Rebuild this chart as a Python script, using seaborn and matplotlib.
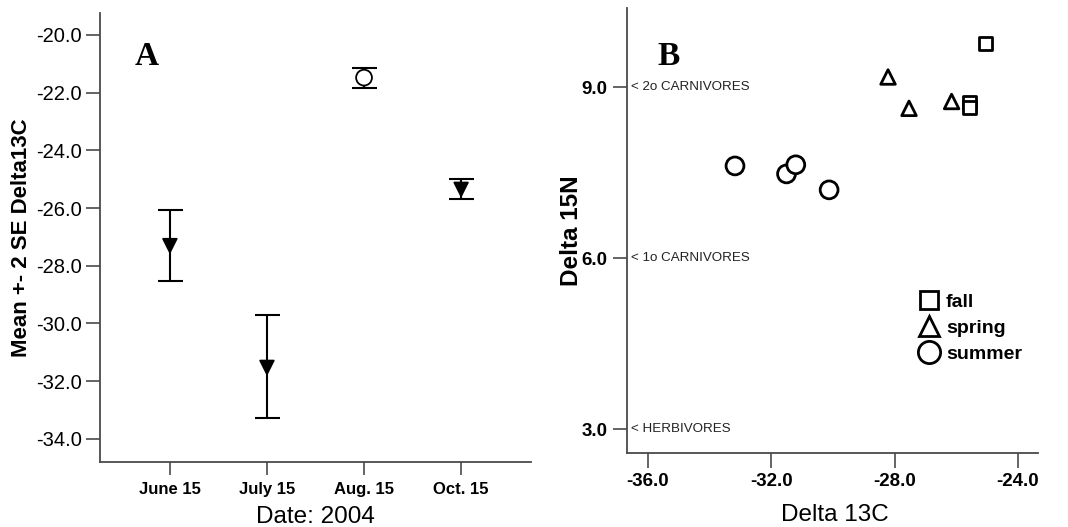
import numpy as np
import pandas as pd
import matplotlib
matplotlib.use("Agg")
import matplotlib.pyplot as plt
from matplotlib.lines import Line2D
import seaborn as sns

# Panel A: mean +/- 2 SE of delta 13C per sampling date
dates = ["June 15", "July 15", "Aug. 15", "Oct. 15"]
mean_d13c = [-27.30, -31.52, -21.48, -25.35]
lower_d13c = [-28.52, -33.27, -21.84, -25.70]
upper_d13c = [-26.07, -29.71, -21.16, -24.98]
a_yticks = [-20.0, -22.0, -24.0, -26.0, -28.0, -30.0, -32.0, -34.0]

# Panel B: individual isotope values by season
season = ["fall", "fall", "fall", "spring", "spring", "spring",
          "summer", "summer", "summer", "summer"]
d13c = [-25.05, -25.57, -25.57, -28.21, -27.53, -26.15,
        -33.17, -31.50, -31.20, -30.12]
d15n = [9.77, 8.73, 8.65, 9.18, 8.63, 8.75,
        7.62, 7.48, 7.64, 7.20]
b_xticks = [-36.0, -32.0, -28.0, -24.0]
b_yticks = [3.0, 6.0, 9.0]
trophic_labels = ["< HERBIVORES", "< 1o CARNIVORES", "< 2o CARNIVORES"]
season_order = ["fall", "spring", "summer"]

sns.set_style("ticks")
plt.rcParams["font.family"] = ["Liberation Sans", "DejaVu Sans"]
plt.rcParams["text.color"] = "black"
plt.rcParams["axes.labelcolor"] = "black"
plt.rcParams["xtick.labelcolor"] = "black"
plt.rcParams["ytick.labelcolor"] = "black"

SPINE = "#4a4a4a"
fig = plt.figure(figsize=(10.68, 5.27), dpi=100)
axA = fig.add_axes([100 / 1068, 1 - 462 / 527, 431 / 1068, 449 / 527])
axB = fig.add_axes([627 / 1068, 1 - 452.7 / 527, 411 / 1068, 444.7 / 527])

# ---------------- Panel A ----------------
dfA = pd.DataFrame({"date": dates, "mean": mean_d13c,
                    "lo": lower_d13c, "hi": upper_d13c})
dfA["pos"] = np.arange(len(dfA))
dfA["kind"] = np.where(dfA["date"] == "Aug. 15", "open", "filled")

axA.errorbar(dfA["pos"], dfA["mean"],
             yerr=[dfA["mean"] - dfA["lo"], dfA["hi"] - dfA["mean"]],
             fmt="none", ecolor="black", elinewidth=1.5,
             capsize=9, capthick=1.5, zorder=2)
sns.scatterplot(data=dfA, x="pos", y="mean", hue="kind", style="kind",
                size="kind", markers={"filled": "v", "open": "o"},
                palette={"filled": "black", "open": "white"},
                sizes={"filled": 95, "open": 130},
                edgecolor="black", linewidth=1.3, legend=False,
                ax=axA, zorder=3)

axA.set_xlim(-0.72, 3.72)
axA.set_ylim(-34.8, -19.24)
axA.set_xticks(dfA["pos"])
axA.set_xticklabels(dates, fontsize=12, fontweight="bold")
axA.set_yticks(a_yticks)
axA.set_yticklabels([f"{v:.1f}" for v in a_yticks], fontsize=14.5)
axA.tick_params(axis="y", length=10, width=1.2, color=SPINE, pad=3)
axA.tick_params(axis="x", length=9.5, width=1.2, color=SPINE, pad=5)
axA.set_ylabel("Mean +- 2 SE Delta13C", fontsize=16, fontweight="bold")
axA.yaxis.set_label_coords(-0.158, 0.5)
axA.set_xlabel("Date: 2004", fontsize=17.5)
axA.xaxis.set_label_coords(0.499, -0.097)

# ---------------- Panel B ----------------
dfB = pd.DataFrame({"season": season, "d13c": d13c, "d15n": d15n})
season_markers = {"fall": "s", "spring": "^", "summer": "o"}
sns.scatterplot(data=dfB, x="d13c", y="d15n", style="season",
                size="season", markers=season_markers,
                sizes={"fall": 85, "spring": 110, "summer": 165},
                style_order=season_order, hue="season",
                palette={s: "white" for s in season_order},
                edgecolor="black", linewidth=2.0, legend=False, ax=axB)

axB.set_xlim(-36.67, -23.35)
axB.set_ylim(2.59, 10.39)
axB.set_xticks(b_xticks)
axB.set_xticklabels([f"{v:.1f}" for v in b_xticks], fontsize=13.5,
                    fontweight="bold")
axB.set_yticks(b_yticks)
axB.set_yticklabels([f"{v:.1f}" for v in b_yticks], fontsize=13.5,
                    fontweight="bold")
axB.tick_params(axis="y", length=10, width=1.2, color=SPINE, pad=4)
axB.tick_params(axis="x", length=11, width=1.2, color=SPINE, pad=3.5)
axB.set_ylabel("Delta 15N", fontsize=17.5, fontweight="bold")
axB.yaxis.set_label_coords(-0.108, 0.5)
axB.set_xlabel("Delta 13C", fontsize=17.5)
axB.xaxis.set_label_coords(0.505, -0.115)

for yv, lab in zip(b_yticks, trophic_labels):
    axB.text(0.0097, yv, lab, transform=axB.get_yaxis_transform(),
             fontsize=9.6, color="#222222", va="center", ha="left")

legend_sizes = {"fall": 12.5, "spring": 15, "summer": 16}
handles = [Line2D([], [], linestyle="none", marker=season_markers[s],
                  markersize=legend_sizes[s], markerfacecolor="white",
                  markeredgecolor="black", markeredgewidth=2.0, label=s)
           for s in season_order]
leg = axB.legend(handles=handles, loc="center left",
                 bbox_to_anchor=(0.712, 0.280), frameon=False,
                 prop={"size": 14, "weight": "bold"}, handlelength=1.0,
                 handletextpad=0.35, labelspacing=0.42, borderpad=0,
                 borderaxespad=0)
for t in leg.get_texts():
    t.set_color("black")

for ax in (axA, axB):
    sns.despine(ax=ax)
    for side in ("left", "bottom"):
        ax.spines[side].set_color(SPINE)
        ax.spines[side].set_linewidth(1.3)

fig.text(135 / 1068, 1 - 65 / 527, "A", family="Liberation Serif",
         fontsize=24, fontweight="bold", va="baseline", color="black")
fig.text(657 / 1068, 1 - 65 / 527, "B", family="Liberation Serif",
         fontsize=24, fontweight="bold", va="baseline", color="black")

fig.savefig("out.png", dpi=100)
